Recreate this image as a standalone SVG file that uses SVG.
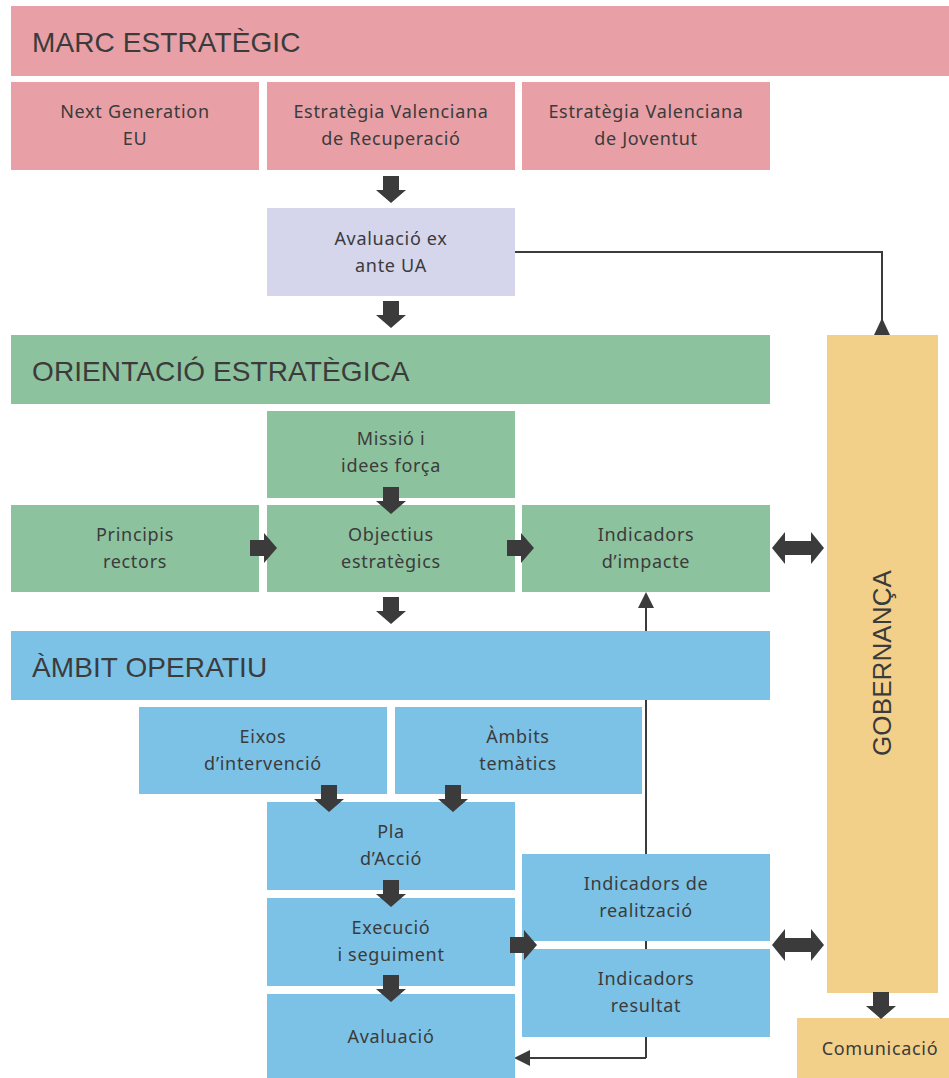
<svg xmlns="http://www.w3.org/2000/svg" xmlns:xlink="http://www.w3.org/1999/xlink" width="949" height="1078" viewBox="0 0 949 1078">
<style>
.pink{fill:#E8A0A6}.lav{fill:#D5D5EB}.green{fill:#8DC29E}.blue{fill:#7BC2E6}.yel{fill:#F3D08A}
.t{font-family:"Noto Sans","Open Sans",sans-serif;font-size:18px;fill:#3b3b3b;text-anchor:middle;letter-spacing:0.7px}
.h{font-family:"Liberation Sans",Arial,sans-serif;font-size:28px;fill:#3b3b3b;letter-spacing:0.1px}
.ln{fill:none;stroke:#3b3b3b;stroke-width:2}
.ar{fill:#3b3b3b}
</style>
<defs>
<path id="down" d="M-8,-27 H8 V-13 H15 L0,0 L-15,-13 H-8 Z" fill="#3b3b3b"/>
<path id="dbl" d="M0,0 L13,-16 V-7 H39 V-16 L52,0 L39,16 V7 H13 V16 Z" fill="#3b3b3b"/>
</defs>
<g id="connectors">
<path class="ln" d="M515,252 H882 V320"/>
<path class="ar" d="M882,318 L890,335 H874 Z"/>
<path class="ln" d="M646,1058 V605"/>
<path class="ln" d="M646,1058 H528"/>
<path class="ar" d="M646,592 L654,608 H638 Z"/>
<path class="ar" d="M514,1058 L530,1050 V1066 Z"/>
</g>
<g id="marc"><rect class="pink" x="11" y="6" width="938" height="70"/><text class="h" x="32" y="52">MARC ESTRATÈGIC</text></g>
<g id="nextgen"><rect class="pink" x="11" y="82" width="248" height="88"/><text class="t" x="135" y="118">Next Generation</text><text class="t" x="135" y="145">EU</text></g>
<g id="evr"><rect class="pink" x="267" y="82" width="248" height="88"/><text class="t" x="391" y="118">Estratègia Valenciana</text><text class="t" x="391" y="145">de Recuperació</text></g>
<g id="evj"><rect class="pink" x="522" y="82" width="248" height="88"/><text class="t" x="646" y="118">Estratègia Valenciana</text><text class="t" x="646" y="145">de Joventut</text></g>
<g id="avexante"><rect class="lav" x="267" y="208" width="248" height="88"/><text class="t" x="391" y="245">Avaluació ex</text><text class="t" x="391" y="272">ante UA</text></g>
<g id="orientacio"><rect class="green" x="11" y="335" width="759" height="69"/><text class="h" x="32" y="381">ORIENTACIÓ ESTRATÈGICA</text></g>
<g id="missio"><rect class="green" x="267" y="411" width="248" height="87"/><text class="t" x="391" y="445">Missió i</text><text class="t" x="391" y="472">idees força</text></g>
<g id="principis"><rect class="green" x="11" y="505" width="248" height="87"/><text class="t" x="135" y="541">Principis</text><text class="t" x="135" y="568">rectors</text></g>
<g id="objectius"><rect class="green" x="267" y="505" width="248" height="87"/><text class="t" x="391" y="541">Objectius</text><text class="t" x="391" y="568">estratègics</text></g>
<g id="impacte"><rect class="green" x="522" y="505" width="248" height="87"/><text class="t" x="646" y="541">Indicadors</text><text class="t" x="646" y="568">d’impacte</text></g>
<g id="ambit"><rect class="blue" x="11" y="631" width="759" height="69"/><text class="h" x="32" y="677">ÀMBIT OPERATIU</text></g>
<g id="eixos"><rect class="blue" x="139" y="707" width="248" height="87"/><text class="t" x="263" y="743">Eixos</text><text class="t" x="263" y="770">d’intervenció</text></g>
<g id="tematics"><rect class="blue" x="395" y="707" width="247" height="87"/><text class="t" x="518" y="743">Àmbits</text><text class="t" x="518" y="770">temàtics</text></g>
<g id="pla"><rect class="blue" x="267" y="802" width="248" height="88"/><text class="t" x="391" y="838">Pla</text><text class="t" x="391" y="865">d’Acció</text></g>
<g id="execucio"><rect class="blue" x="267" y="898" width="248" height="88"/><text class="t" x="391" y="934">Execució</text><text class="t" x="391" y="961">i seguiment</text></g>
<g id="avaluacio"><rect class="blue" x="267" y="994" width="248" height="84"/><text class="t" x="391" y="1043">Avaluació</text></g>
<g id="realitzacio"><rect class="blue" x="522" y="854" width="248" height="87"/><text class="t" x="646" y="890">Indicadors de</text><text class="t" x="646" y="917">realització</text></g>
<g id="resultat"><rect class="blue" x="522" y="949" width="248" height="88"/><text class="t" x="646" y="985">Indicadors</text><text class="t" x="646" y="1012">resultat</text></g>
<g id="governanca"><rect class="yel" x="827" y="335" width="111" height="658"/><text class="h" transform="translate(891,663) rotate(-90)" text-anchor="middle" style="font-size:26px">GOBERNANÇA</text></g>
<g id="comunicacio"><rect class="yel" x="797" y="1018" width="152" height="60"/><text class="t" x="880" y="1055">Comunicació</text></g>
<g id="arrows">
<use xlink:href="#down" x="391" y="203"/>
<use xlink:href="#down" x="391" y="328"/>
<use xlink:href="#down" x="391" y="514"/>
<use xlink:href="#down" x="391" y="624"/>
<use xlink:href="#down" x="329" y="812"/>
<use xlink:href="#down" x="453" y="812"/>
<use xlink:href="#down" x="391" y="907"/>
<use xlink:href="#down" x="391" y="1002"/>
<use xlink:href="#down" x="881" y="1019"/>
<use xlink:href="#down" transform="translate(277,548) rotate(-90)"/>
<use xlink:href="#down" transform="translate(534,548) rotate(-90)"/>
<use xlink:href="#down" transform="translate(537,945) rotate(-90)"/>
<use xlink:href="#dbl" x="772" y="548"/>
<use xlink:href="#dbl" x="772" y="945"/>
</g>
</svg>
